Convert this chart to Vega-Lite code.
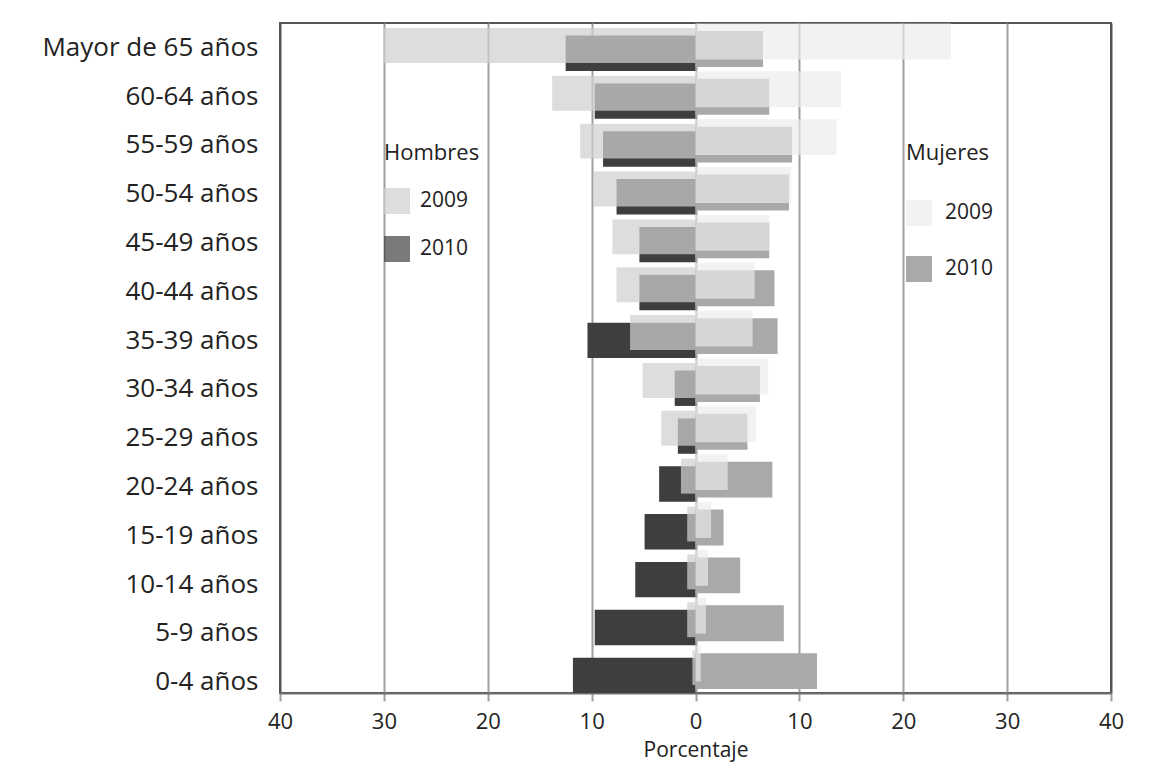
{
  "$schema": "https://vega.github.io/schema/vega-lite/v6.json",
  "width": 831,
  "height": 670,
  "autosize": {"type": "none"},
  "padding": {"left": 280, "top": 23, "right": 59, "bottom": 83},
  "background": "white",
  "config": {
    "font": "Open Sans",
    "view": {"stroke": "#555555", "strokeWidth": 2},
    "axis": {"labelColor": "#222222", "titleColor": "#222222", "labelFont": "Open Sans", "titleFont": "Open Sans"},
    "legend": {"labelFont": "Open Sans", "titleFont": "Open Sans"}
  },
  "data": {
    "values": [
      {"age": "Mayor de 65 años", "sex": "H", "year": "2009", "value": -30.0},
      {"age": "60-64 años", "sex": "H", "year": "2009", "value": -13.8},
      {"age": "55-59 años", "sex": "H", "year": "2009", "value": -11.1},
      {"age": "50-54 años", "sex": "H", "year": "2009", "value": -9.8},
      {"age": "45-49 años", "sex": "H", "year": "2009", "value": -8.0},
      {"age": "40-44 años", "sex": "H", "year": "2009", "value": -7.6},
      {"age": "35-39 años", "sex": "H", "year": "2009", "value": -6.3},
      {"age": "30-34 años", "sex": "H", "year": "2009", "value": -5.1},
      {"age": "25-29 años", "sex": "H", "year": "2009", "value": -3.3},
      {"age": "20-24 años", "sex": "H", "year": "2009", "value": -1.4},
      {"age": "15-19 años", "sex": "H", "year": "2009", "value": -0.8},
      {"age": "10-14 años", "sex": "H", "year": "2009", "value": -0.8},
      {"age": "5-9 años", "sex": "H", "year": "2009", "value": -0.8},
      {"age": "0-4 años", "sex": "H", "year": "2009", "value": -0.3},
      {"age": "Mayor de 65 años", "sex": "H", "year": "2010", "value": -12.5},
      {"age": "60-64 años", "sex": "H", "year": "2010", "value": -9.7},
      {"age": "55-59 años", "sex": "H", "year": "2010", "value": -8.9},
      {"age": "50-54 años", "sex": "H", "year": "2010", "value": -7.6},
      {"age": "45-49 años", "sex": "H", "year": "2010", "value": -5.4},
      {"age": "40-44 años", "sex": "H", "year": "2010", "value": -5.4},
      {"age": "35-39 años", "sex": "H", "year": "2010", "value": -10.4},
      {"age": "30-34 años", "sex": "H", "year": "2010", "value": -2.0},
      {"age": "25-29 años", "sex": "H", "year": "2010", "value": -1.7},
      {"age": "20-24 años", "sex": "H", "year": "2010", "value": -3.5},
      {"age": "15-19 años", "sex": "H", "year": "2010", "value": -4.9},
      {"age": "10-14 años", "sex": "H", "year": "2010", "value": -5.8},
      {"age": "5-9 años", "sex": "H", "year": "2010", "value": -9.7},
      {"age": "0-4 años", "sex": "H", "year": "2010", "value": -11.8},
      {"age": "Mayor de 65 años", "sex": "M", "year": "2009", "value": 24.6},
      {"age": "60-64 años", "sex": "M", "year": "2009", "value": 14.0},
      {"age": "55-59 años", "sex": "M", "year": "2009", "value": 13.6},
      {"age": "50-54 años", "sex": "M", "year": "2009", "value": 9.2},
      {"age": "45-49 años", "sex": "M", "year": "2009", "value": 7.1},
      {"age": "40-44 años", "sex": "M", "year": "2009", "value": 5.7},
      {"age": "35-39 años", "sex": "M", "year": "2009", "value": 5.5},
      {"age": "30-34 años", "sex": "M", "year": "2009", "value": 7.0},
      {"age": "25-29 años", "sex": "M", "year": "2009", "value": 5.8},
      {"age": "20-24 años", "sex": "M", "year": "2009", "value": 3.1},
      {"age": "15-19 años", "sex": "M", "year": "2009", "value": 1.5},
      {"age": "10-14 años", "sex": "M", "year": "2009", "value": 1.2},
      {"age": "5-9 años", "sex": "M", "year": "2009", "value": 1.0},
      {"age": "0-4 años", "sex": "M", "year": "2009", "value": 0.5},
      {"age": "Mayor de 65 años", "sex": "M", "year": "2010", "value": 6.5},
      {"age": "60-64 años", "sex": "M", "year": "2010", "value": 7.1},
      {"age": "55-59 años", "sex": "M", "year": "2010", "value": 9.3},
      {"age": "50-54 años", "sex": "M", "year": "2010", "value": 9.0},
      {"age": "45-49 años", "sex": "M", "year": "2010", "value": 7.1},
      {"age": "40-44 años", "sex": "M", "year": "2010", "value": 7.6},
      {"age": "35-39 años", "sex": "M", "year": "2010", "value": 7.9},
      {"age": "30-34 años", "sex": "M", "year": "2010", "value": 6.2},
      {"age": "25-29 años", "sex": "M", "year": "2010", "value": 5.0},
      {"age": "20-24 años", "sex": "M", "year": "2010", "value": 7.4},
      {"age": "15-19 años", "sex": "M", "year": "2010", "value": 2.7},
      {"age": "10-14 años", "sex": "M", "year": "2010", "value": 4.3},
      {"age": "5-9 años", "sex": "M", "year": "2010", "value": 8.5},
      {"age": "0-4 años", "sex": "M", "year": "2010", "value": 11.7}
    ]
  },
  "encoding": {
    "y": {
      "field": "age",
      "type": "nominal",
      "sort": ["Mayor de 65 años", "60-64 años", "55-59 años", "50-54 años", "45-49 años", "40-44 años", "35-39 años", "30-34 años", "25-29 años", "20-24 años", "15-19 años", "10-14 años", "5-9 años", "0-4 años"],
      "scale": {"paddingInner": 0, "paddingOuter": 0},
      "axis": null
    },
    "x": {
      "field": "value",
      "type": "quantitative",
      "scale": {"domain": [-40, 40], "nice": false},
      "axis": {
        "values": [-40, -30, -20, -10, 0, 10, 20, 30, 40],
        "labelExpr": "abs(datum.value)",
        "labelFlush": false,
        "grid": true,
        "gridColor": {"condition": {"test": "abs(datum.value) == 40", "value": "#555555"}, "value": "#a0a0a0"},
        "gridWidth": 2,
        "tickColor": "#a0a0a0",
        "tickWidth": 2,
        "tickSize": 8,
        "domainColor": "#6e6e6e",
        "domainWidth": 2,
        "labelFontSize": 22,
        "labelPadding": 10,
        "title": "Porcentaje",
        "titleFontSize": 21,
        "titleFontWeight": "normal",
        "titlePadding": 7
      }
    }
  },
  "layer": [
    {
      "layer": [
        {
          "layer": [
            {
              "transform": [{"filter": "datum.sex == 'H' && datum.year == '2010'"}],
              "mark": {"type": "bar", "height": {"band": 0.74}, "yOffset": 6.3},
              "encoding": {
                "color": {
                  "field": "year", "type": "nominal",
                  "scale": {"domain": ["2009", "2010"], "range": ["rgba(208,208,208,0.725)", "#3e3e3e"]},
                  "legend": {"title": "Hombres", "orient": "none", "legendX": 104, "legendY": 120, "titleFontSize": 22, "titleFontWeight": "normal", "titleColor": "#222222", "labelFontSize": 21, "labelColor": "#222222", "symbolType": "square", "symbolSize": 676, "symbolStrokeWidth": 0, "rowPadding": 22, "titlePadding": 23, "labelOffset": 10,
                    "encode": {"symbols": {"update": {"fillOpacity": {"signal": "datum.value === '2010' ? 0.69 : 1"}}}}}
                }
              }
            },
            {
              "transform": [{"filter": "datum.sex == 'H' && datum.year == '2009'"}],
              "mark": {"type": "bar", "height": {"band": 0.73}, "yOffset": -1.5},
              "encoding": {
                "color": {
                  "field": "year", "type": "nominal",
                  "scale": {"domain": ["2009", "2010"], "range": ["rgba(208,208,208,0.725)", "#3e3e3e"]},
                  "legend": {"title": "Hombres", "orient": "none", "legendX": 104, "legendY": 120, "titleFontSize": 22, "titleFontWeight": "normal", "titleColor": "#222222", "labelFontSize": 21, "labelColor": "#222222", "symbolType": "square", "symbolSize": 676, "symbolStrokeWidth": 0, "rowPadding": 22, "titlePadding": 23, "labelOffset": 10,
                    "encode": {"symbols": {"update": {"fillOpacity": {"signal": "datum.value === '2010' ? 0.69 : 1"}}}}}
                }
              }
            }
          ]
        },
        {
          "layer": [
            {
              "transform": [{"filter": "datum.sex == 'M' && datum.year == '2010'"}],
              "mark": {"type": "bar", "height": {"band": 0.75}, "yOffset": 2},
              "encoding": {
                "color": {
                  "field": "year", "type": "nominal",
                  "scale": {"domain": ["2009", "2010"], "range": ["rgba(236,236,236,0.674)", "#a9a9a9"]},
                  "legend": {"title": "Mujeres", "orient": "none", "legendX": 626, "legendY": 120, "titleFontSize": 22, "titleFontWeight": "normal", "titleColor": "#222222", "labelFontSize": 21, "labelColor": "#222222", "symbolType": "square", "symbolSize": 676, "symbolStrokeWidth": 0, "rowPadding": 30, "titlePadding": 35, "labelOffset": 13}
                }
              }
            },
            {
              "transform": [{"filter": "datum.sex == 'M' && datum.year == '2009'"}],
              "mark": {"type": "bar", "height": {"band": 0.75}, "yOffset": -5.5},
              "encoding": {
                "color": {
                  "field": "year", "type": "nominal",
                  "scale": {"domain": ["2009", "2010"], "range": ["rgba(236,236,236,0.674)", "#a9a9a9"]},
                  "legend": {"title": "Mujeres", "orient": "none", "legendX": 626, "legendY": 120, "titleFontSize": 22, "titleFontWeight": "normal", "titleColor": "#222222", "labelFontSize": 21, "labelColor": "#222222", "symbolType": "square", "symbolSize": 676, "symbolStrokeWidth": 0, "rowPadding": 30, "titlePadding": 35, "labelOffset": 13}
                }
              }
            }
          ]
        }
      ],
      "resolve": {"scale": {"color": "independent"}}
    },
    {
      "transform": [{"filter": "datum.sex == 'H' && datum.year == '2010'"}],
      "mark": {"type": "point", "opacity": 0},
      "encoding": {
        "y": {
          "field": "age",
          "type": "nominal",
          "sort": ["Mayor de 65 años", "60-64 años", "55-59 años", "50-54 años", "45-49 años", "40-44 años", "35-39 años", "30-34 años", "25-29 años", "20-24 años", "15-19 años", "10-14 años", "5-9 años", "0-4 años"],
          "scale": {"paddingInner": 0, "paddingOuter": 0, "range": [0, 683]},
          "axis": {"orient": "left", "title": null, "ticks": false, "tickSize": 0, "domain": false, "grid": false, "labelFontSize": 26, "labelPadding": 22, "labelLimit": 0, "labelColor": "#222222"}
        }
      }
    }
  ],
  "resolve": {"scale": {"y": "independent"}}
}
